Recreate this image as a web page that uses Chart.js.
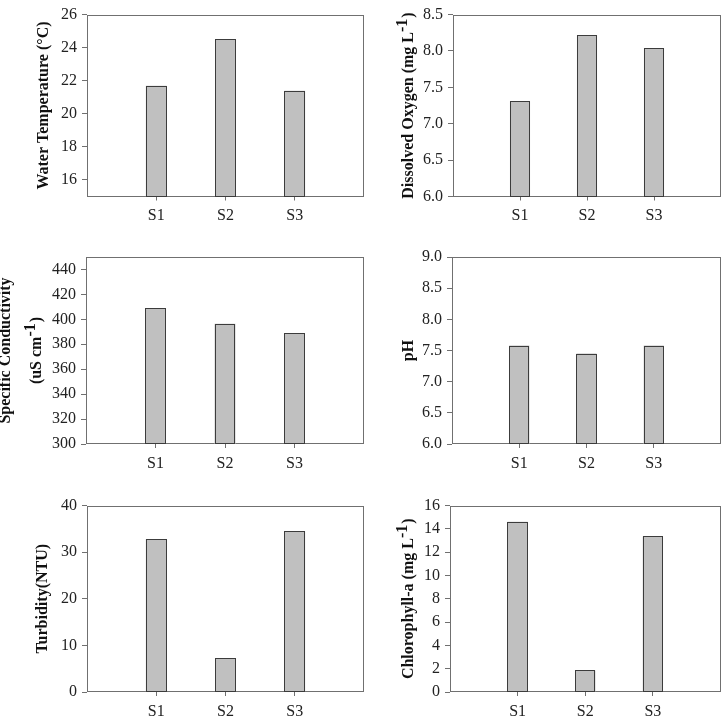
<!DOCTYPE html>
<html>
<head>
<meta charset="utf-8">
<script src="https://cdn.jsdelivr.net/npm/chart.js@4/dist/chart.umd.min.js"></script>
<style>
html,body{margin:0;padding:0;background:#fff;}
#wrap{position:relative;width:728px;height:720px;overflow:hidden;}
canvas{position:absolute;}
</style>
</head>
<body>
<div id="wrap"></div>
<script>
// ---- data ----
const categories = ['', 'S1', 'S2', 'S3', ''];
const waterTemp = [null, 21.7, 24.5, 21.4, null];
const dissolvedOxygen = [null, 7.31, 8.22, 8.04, null];
const conductivity = [null, 409, 396.5, 389, null];
const phValues = [null, 7.58, 7.45, 7.58, null];
const turbidity = [null, 32.8, 7.2, 34.5, null];
const chlorophyll = [null, 14.6, 1.85, 13.35, null];

const tempTicks = [16, 18, 20, 22, 24, 26];
const doTicks = [6.0, 6.5, 7.0, 7.5, 8.0, 8.5];
const condTicks = [300, 320, 340, 360, 380, 400, 420, 440];
const phTicks = [6.0, 6.5, 7.0, 7.5, 8.0, 8.5, 9.0];
const turbTicks = [0, 10, 20, 30, 40];
const chlTicks = [0, 2, 4, 6, 8, 10, 12, 14, 16];

// ---- layout / style ----
const SERIF = '"Liberation Serif", "Times New Roman", serif';
const TITLE_FONT = 'bold 16px ' + SERIF;

const panels = [
  {data: waterTemp, min: 15, max: 26, ticks: tempTicks, dec: 0,
   canvas: [0, 0, 370, 240], plot: [87, 10, 365, 196.5],
   titles: [{x: 44, segs: [{t: 'Water Temperature (°C)'}]}]},
  {data: dissolvedOxygen, min: 6, max: 8.5, ticks: doTicks, dec: 1,
   canvas: [364, 0, 364, 240], plot: [453, 10, 721, 196.5],
   titles: [{x: 409, segs: [{t: 'Dissolved Oxygen (mg L'}, {t: '-1', sup: true}, {t: ')'}]}]},
  {data: conductivity, min: 300, max: 450, ticks: condTicks, dec: 0,
   canvas: [0, 240, 370, 240], plot: [86, 257, 365, 444],
   titles: [{x: 6, segs: [{t: 'Specific Conductivity'}]},
            {x: 37, segs: [{t: '(uS cm'}, {t: '-1', sup: true}, {t: ')'}]}]},
  {data: phValues, min: 6, max: 9, ticks: phTicks, dec: 1,
   canvas: [364, 240, 364, 240], plot: [452, 257, 721, 444],
   titles: [{x: 409, segs: [{t: 'pH'}]}]},
  {data: turbidity, min: 0, max: 40, ticks: turbTicks, dec: 0,
   canvas: [0, 480, 370, 240], plot: [87, 505.5, 365, 692],
   titles: [{x: 43, segs: [{t: 'Turbidity(NTU)'}]}]},
  {data: chlorophyll, min: 0, max: 16, ticks: chlTicks, dec: 0,
   canvas: [364, 480, 364, 240], plot: [450, 505.5, 720.5, 692],
   titles: [{x: 409, segs: [{t: 'Chlorophyll-a (mg L'}, {t: '-1', sup: true}, {t: ')'}]}]}
];

const frameColor = '#707070';
const barEdge = '#3c3c3c';
const X_AXIS_H = 30;

const framePlugin = {
  id: 'frame',
  beforeDatasetsDraw(chart) {
    const a = chart.chartArea, ctx = chart.ctx;
    ctx.save();
    ctx.strokeStyle = frameColor;
    ctx.lineWidth = 1;
    const l = Math.round(a.left) + 0.5, t = Math.round(a.top) + 0.5;
    const r = Math.round(a.right) - 0.5, b = Math.round(a.bottom) - 0.5;
    ctx.strokeRect(l, t, r - l, b - t);
    ctx.restore();
  },
  afterDatasetsDraw(chart) {
    // crisp outline around each bar, from the library's own element geometry
    const ctx = chart.ctx;
    const a = chart.chartArea;
    const meta = chart.getDatasetMeta(0);
    const vals = chart.data.datasets[0].data;
    ctx.save();
    ctx.strokeStyle = barEdge;
    ctx.lineWidth = 1;
    meta.data.forEach((el, i) => {
      if (vals[i] == null) return;
      const top = Math.max(Math.min(el.y, el.base), a.top);
      const bot = Math.min(Math.max(el.y, el.base), a.bottom);
      const l = Math.round(el.x - el.width / 2) + 0.5;
      const r = Math.round(el.x + el.width / 2) - 0.5;
      const t = Math.round(top) + 0.5;
      const b = Math.round(bot) - 0.5;
      ctx.strokeRect(l, t, r - l, b - t);
    });
    ctx.restore();
  }
};

const titlePlugin = {
  id: 'ytitles',
  afterDraw(chart, args, opts) {
    const ctx = chart.ctx;
    const a = chart.chartArea;
    const cy = (a.top + a.bottom) / 2;
    (opts.titles || []).forEach(tt => {
      ctx.save();
      ctx.font = TITLE_FONT;
      ctx.fillStyle = '#111';
      ctx.textBaseline = 'middle';
      ctx.textAlign = 'left';
      const widths = tt.segs.map(s => ctx.measureText(s.t).width + (s.sup ? 1 : 0));
      const total = widths.reduce((p, c) => p + c, 0);
      ctx.translate(tt.x - opts.offsetX, cy);
      ctx.rotate(-Math.PI / 2);
      let x = -total / 2;
      tt.segs.forEach((s, i) => {
        ctx.fillText(s.t, x, s.sup ? -6 : 0);
        x += widths[i];
      });
      ctx.restore();
    });
  }
};

const wrap = document.getElementById('wrap');
panels.forEach(p => {
  const [cx, cy, cw, ch] = p.canvas;
  const [L, T, R, B] = p.plot;
  const cv = document.createElement('canvas');
  cv.width = cw; cv.height = ch;
  cv.style.left = cx + 'px'; cv.style.top = cy + 'px';
  cv.style.width = cw + 'px'; cv.style.height = ch + 'px';
  wrap.appendChild(cv);
  new Chart(cv, {
    type: 'bar',
    data: {
      labels: categories,
      datasets: [{
        data: p.data,
        backgroundColor: '#c0c0c0',
        borderWidth: 0,
        barPercentage: 0.3,
        categoryPercentage: 1.0
      }]
    },
    options: {
      responsive: false,
      animation: false,
      devicePixelRatio: 1,
      layout: {padding: {left: 0, top: T - cy, right: cx + cw - R, bottom: cy + ch - B - X_AXIS_H}},
      plugins: {
        legend: {display: false},
        tooltip: {enabled: false},
        ytitles: {titles: p.titles, offsetX: cx}
      },
      scales: {
        x: {
          offset: false,
          border: {display: false},
          grid: {
            display: true, offset: false, drawOnChartArea: false, drawTicks: true, tickLength: 4,
            color: c => (c.index === 0 || c.index === categories.length - 1) ? 'rgba(0,0,0,0)' : frameColor
          },
          ticks: {
            autoSkip: false, maxRotation: 0, padding: 6, color: '#222',
            font: {family: SERIF, size: 16}
          },
          afterFit: s => { s.height = X_AXIS_H; }
        },
        y: {
          min: p.min, max: p.max,
          border: {display: false},
          grid: {display: true, drawOnChartArea: false, drawTicks: true, tickLength: 5, color: frameColor},
          ticks: {
            padding: 5, color: '#222',
            font: {family: SERIF, size: 16},
            callback: v => Number(v).toFixed(p.dec)
          },
          afterBuildTicks: s => { s.ticks = p.ticks.map(v => ({value: v})); },
          afterFit: s => { s.width = L - cx; }
        }
      }
    },
    plugins: [framePlugin, titlePlugin]
  });
});
</script>
</body>
</html>
